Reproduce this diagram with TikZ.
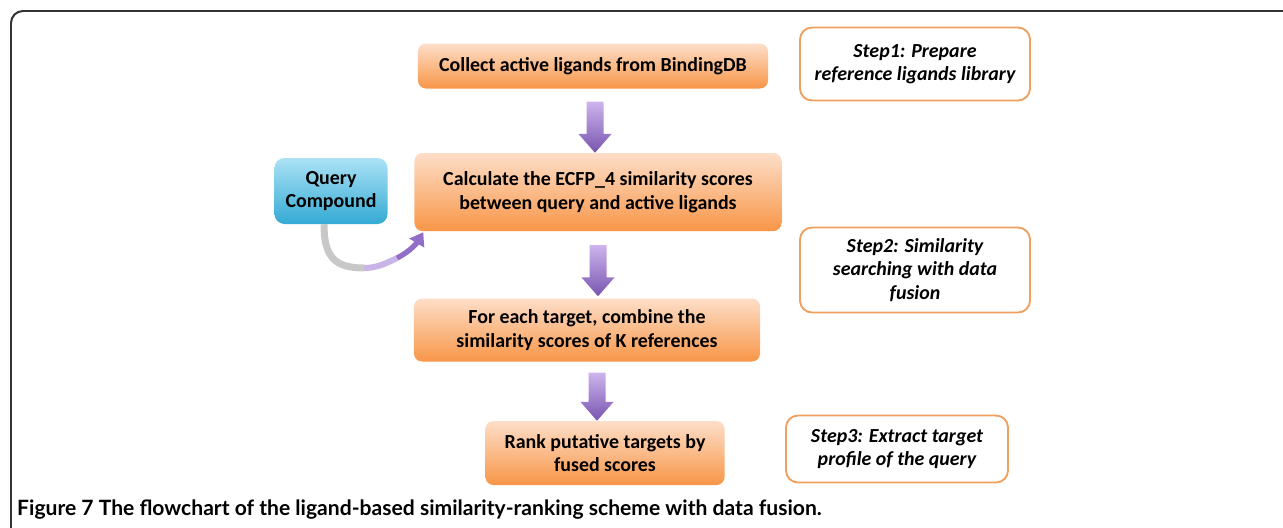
\documentclass[tikz,border=0pt]{standalone}
\usepackage{fontspec}
\setmainfont{Carlito}
\newfontfamily\capfont{Lato}
\usetikzlibrary{positioning,calc,arrows.meta}

\definecolor{boxtop}{RGB}{253,222,200}
\definecolor{boxbot}{RGB}{248,150,72}
\definecolor{qtop}{RGB}{172,226,246}
\definecolor{qbot}{RGB}{52,170,212}
\definecolor{arrtop}{RGB}{205,180,238}
\definecolor{arrbot}{RGB}{120,85,175}
\definecolor{stepline}{RGB}{240,160,95}
\definecolor{curvegray}{RGB}{200,200,200}
\definecolor{curvelilac}{RGB}{200,180,230}
\definecolor{curvepurple}{RGB}{145,110,200}

\tikzset{
  flowbox/.style={rectangle, rounded corners=0.24cm, top color=boxtop, bottom color=boxbot,
    font=\bfseries\fontsize{17}{20}\selectfont, align=center, inner sep=0pt},
  querybox/.style={rectangle, rounded corners=0.3cm, top color=qtop, bottom color=qbot,
    font=\bfseries\fontsize{17}{20}\selectfont, align=center, inner sep=0pt},
  stepbox/.style={rectangle, rounded corners=0.36cm, draw=stepline, line width=1.6pt, fill=white,
    font=\bfseries\itshape\fontsize{17}{20}\selectfont, align=center, inner sep=0pt},
}

% fat shaded arrow: #1 start, #2 tip
\newcommand{\fatarrow}[2]{%
  \shade[top color=arrtop, bottom color=arrbot] let \p1=#1, \p2=#2 in
    (\x1-0.255cm,\y1) -- (\x1+0.255cm,\y1) -- (\x1+0.255cm,\y2+0.57cm) -- (\x1+0.5cm,\y2+0.57cm)
    -- (\x1,\y2) -- (\x1-0.5cm,\y2+0.57cm) -- (\x1-0.255cm,\y2+0.57cm) -- cycle;}

\begin{document}
\begin{tikzpicture}[x=0.03cm, y=-0.03cm]
    \useasboundingbox (0,0) rectangle (1283,527);
    % frame
    \draw[line width=1.7pt, black!80, rounded corners=0.36cm] (11,540) -- (11,11) -- (1300,11);

    % flow boxes
    \node[flowbox, minimum width=10.5cm, minimum height=1.35cm] (b1) at (593,66) {Collect active ligands from BindingDB};
    \node[flowbox, minimum width=11.01cm, minimum height=2.34cm] (b2) at (598,192) {Calculate the ECFP\_4 similarity scores\\between query and active ligands};
    \node[flowbox, minimum width=10.38cm, minimum height=1.89cm] (b3) at (587,330) {For each target, combine the\\similarity scores of K references};
    \node[flowbox, minimum width=7.17cm, minimum height=1.92cm] (b4) at (605,453) {Rank putative targets by\\fused scores};
    \node[querybox, minimum width=3.39cm, minimum height=1.98cm] (q) at (331,191) {Query\\Compound};

    % step boxes
    \node[stepbox, minimum width=6.9cm, minimum height=2.19cm] (s1) at (915,64) {Step1: Prepare\\reference ligands library};
    \node[stepbox, minimum width=6.9cm, minimum height=2.55cm] (s2) at (915,270) {Step2: Similarity\\searching with data\\fusion};
    \node[stepbox, minimum width=6.66cm, minimum height=2.01cm] (s3) at (897,449) {Step3: Extract target\\profile of the query};

    % arrows
    \fatarrow{($(b1.south)+(2,13)$)}{(b2.north)}
    \fatarrow{($(b2.south)+(0,14)$)}{($(b3.north)+(0,-2)$)}
    \fatarrow{($(b3.south)+(10,11)$)}{(b4.north)}

    \coordinate (cmid) at (364,268);
    \coordinate (cmid2) at (397,258);
    \draw[curvegray, line width=0.21cm] ($(q.south)+(-7,0)$) .. controls +(0,32) and +(-30,0) .. (cmid);
    \draw[curvelilac, line width=0.18cm] (cmid) .. controls +(12,0) and +(-12,6) .. (cmid2);
    \draw[curvepurple, line width=0.16cm, -{Triangle[width=0.5cm, length=0.38cm]}] (cmid2) .. controls +(14,-7) and +(-6,10) .. ($(b2.south west)+(9,1)$);

    % caption
    \node[anchor=base west, inner sep=0pt, font=\capfont\bfseries\fontsize{18}{21}\selectfont] (cap) at (17,515) {Figure 7 The flowchart of the ligand-based similarity-ranking scheme with data fusion.};
\end{tikzpicture}
\end{document}
